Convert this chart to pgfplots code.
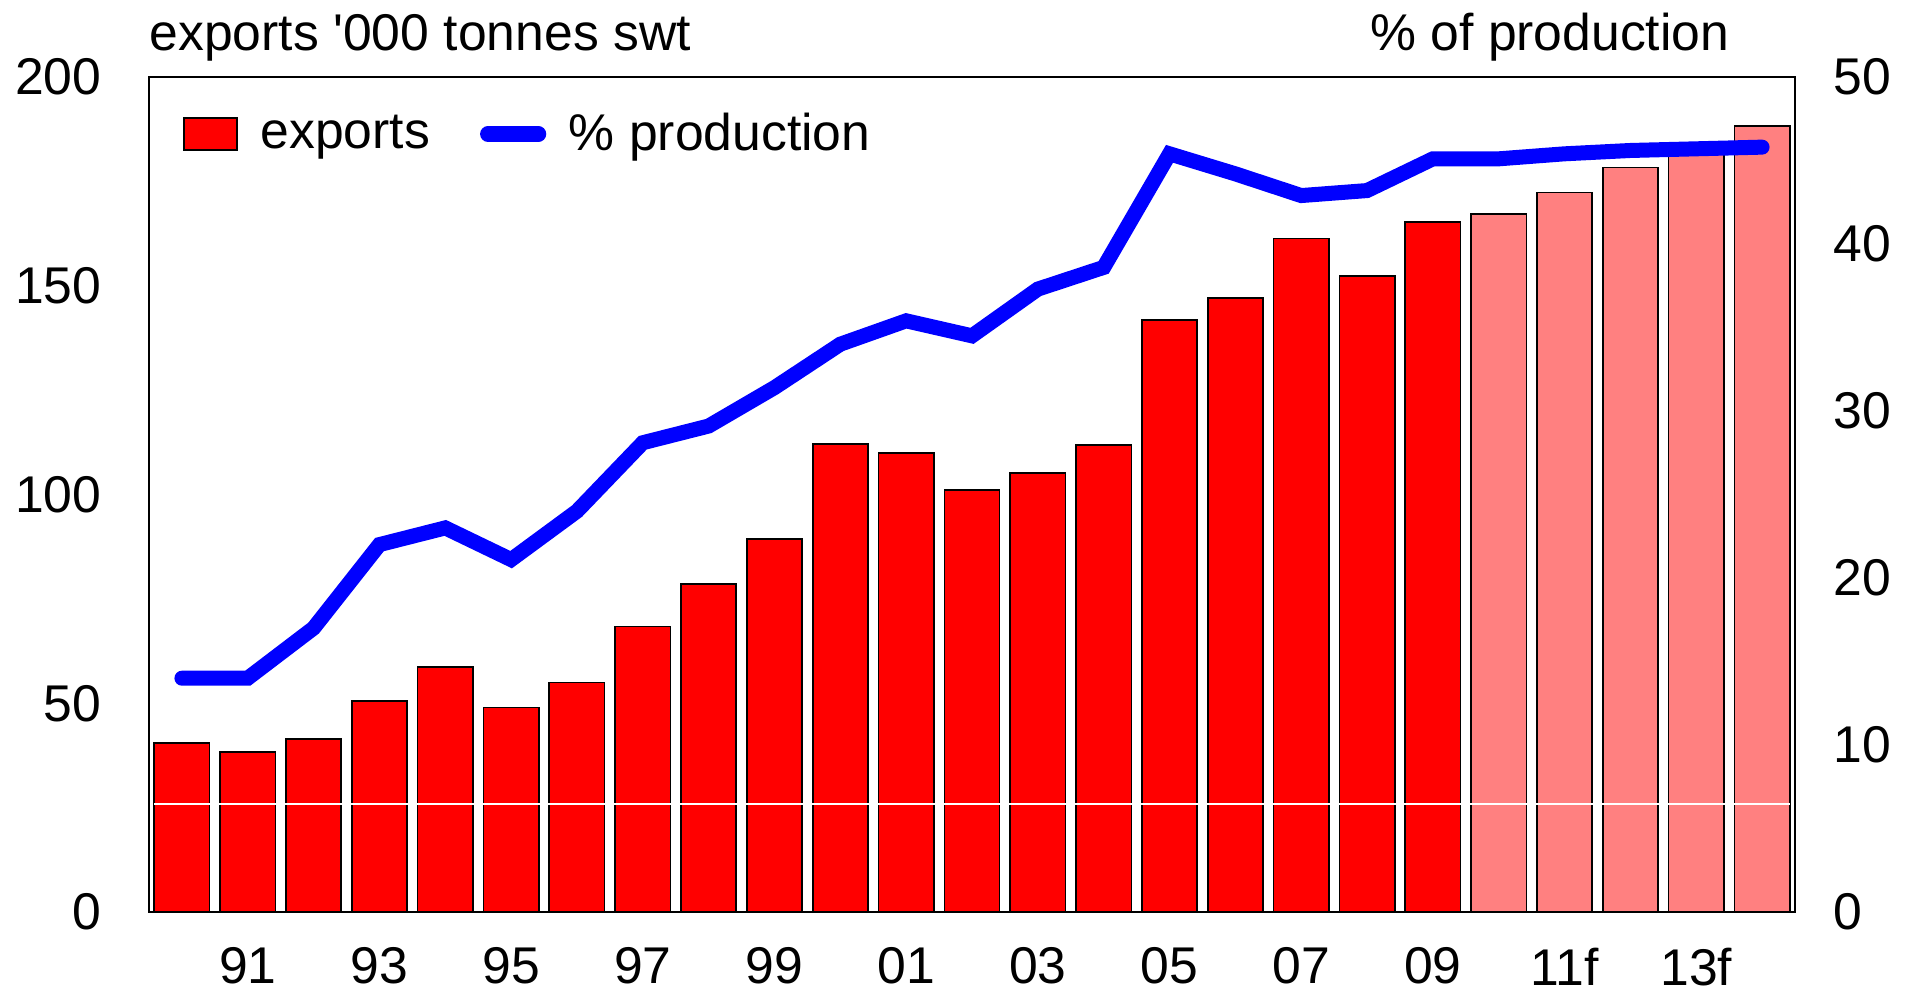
\documentclass[border=0pt]{standalone}
\usepackage{fontspec}
\setmainfont{Liberation Sans}
\usepackage{pgfplots}
\pgfplotsset{compat=1.18}
\definecolor{barred}{RGB}{255,0,0}
\definecolor{barpink}{RGB}{255,128,128}
\definecolor{lineblue}{RGB}{0,0,255}
\begin{document}
\begin{tikzpicture}
\pgfplotsset{every axis/.append style={font=\fontsize{15.5}{18}\selectfont},
  /pgf/number format/assume math mode=true}
\begin{axis}[name=main,
  width=493.8pt, height=250.5pt, scale only axis,
  xmin=-0.5, xmax=24.5, ymin=0, ymax=200,
  axis line style={black, line width=0.7pt},
  major tick length=0pt,
  xtick={1,3,...,23},
  xticklabels={91,93,95,97,99,01,03,05,07,09,11f,13f},
  xticklabel style={anchor=north, inner sep=0pt, yshift=-10.5pt},
  ytick={0,50,...,200},
  yticklabel style={anchor=east, inner sep=0pt, xshift=-14.1pt},
  legend columns=2,
  legend style={at={(0,1)}, anchor=west, xshift=6.9pt, yshift=-17.1pt,
    draw=none, fill=none, nodes={inner sep=0pt},
    /tikz/every odd column/.append style={column sep=6.8pt},
    /tikz/every even column/.append style={column sep=15pt}},
]
\addplot[ybar, bar width=0.84, bar shift=0pt, fill=barred, draw=black, line width=0.5pt,
  legend image code/.code={\draw[fill=barred, draw=black, line width=0.6pt] (0pt,-4.75pt) rectangle (16pt,4.75pt);}]
  coordinates {(0,40.4) (1,38.3) (2,41.5) (3,50.5) (4,58.7) (5,49.0) (6,55.0) (7,68.4) (8,78.5) (9,89.4)
  (10,112.1) (11,110.0) (12,101.1) (13,105.2) (14,111.9) (15,141.8) (16,147.0) (17,161.3) (18,152.3) (19,165.3)};
\addlegendentry{exports}
\addplot[ybar, bar width=0.84, bar shift=0pt, fill=barpink, draw=black, line width=0.5pt, forget plot]
  coordinates {(20,167.2) (21,172.3) (22,178.3) (23,183.0) (24,188.3)};
\addplot[white, line width=0.4pt, forget plot] coordinates {(-0.42,25.9) (24.42,25.9)};
\addlegendimage{legend image code/.code={\draw[lineblue, line width=4.7pt, line cap=round] (2.35pt,0pt) -- (17.5pt,0pt);}}
\addlegendentry{\% production}
\end{axis}
\begin{axis}[
  width=493.8pt, height=250.5pt, scale only axis,
  xmin=-0.5, xmax=24.5, ymin=0, ymax=50,
  axis x line=none, axis y line*=right,
  axis line style={black, line width=0.7pt},
  major tick length=0pt,
  ytick={0,10,...,50},
  yticklabel style={anchor=west, inner sep=0pt, xshift=11.4pt},
]
\addplot[lineblue, line width=4.5pt, line cap=round, line join=miter]
  coordinates {(0,14) (1,14) (2,17) (3,22) (4,23) (5,21.1) (6,24.0) (7,28.1) (8,29.1) (9,31.4)
  (10,34.0) (11,35.4) (12,34.5) (13,37.3) (14,38.6) (15,45.4) (16,44.2) (17,42.9) (18,43.2) (19,45.1)
  (20,45.1) (21,45.4) (22,45.6) (23,45.7) (24,45.8)};
\end{axis}
\node[anchor=base west, inner sep=0pt, font=\fontsize{15.5}{18}\selectfont] at ([yshift=7.8pt]main.north west) {exports \textquotesingle000 tonnes swt};
\node[anchor=base east, inner sep=0pt, font=\fontsize{15.5}{18}\selectfont] at ([xshift=-19.5pt,yshift=7.8pt]main.north east) {\% of production};
\pgfresetboundingbox
\path[use as bounding box] ([xshift=-44.7pt,yshift=-23.1pt]main.south west) rectangle ([xshift=34.5pt,yshift=23.1pt]main.north east);
\end{tikzpicture}
\end{document}
